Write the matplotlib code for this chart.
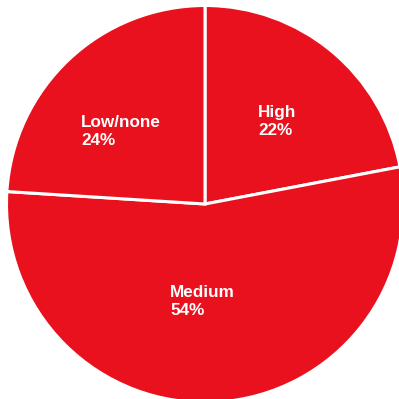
import matplotlib.pyplot as plt

labels = ["High", "Medium", "Low/none"]
shares = [22, 54, 24]
# upper-left corner of each label, in pixels from the top-left of the image
label_pos = [(258, 105), (170, 285), (81, 115)]

red = '#E8111D'

fig = plt.figure(figsize=(3.99, 3.99), dpi=100)
ax = fig.add_axes([0, 0, 1, 1])

ax.pie(shares, center=(205, 399 - 204), radius=198.5, startangle=90, counterclock=False,
       colors=[red] * len(shares),
       wedgeprops=dict(edgecolor='white', linewidth=2.2))
ax.set_xlim(0, 399)
ax.set_ylim(0, 399)
ax.set_aspect('equal')
ax.axis('off')

for lab, val, (x, y) in zip(labels, shares, label_pos):
    ax.text(x, 399 - y, f"{lab}\n{val}%", ha='left', va='top', color='white',
            fontsize=12.3, fontweight='bold', family='Liberation Sans', linespacing=1.27)

plt.savefig('out.png', dpi=100)
